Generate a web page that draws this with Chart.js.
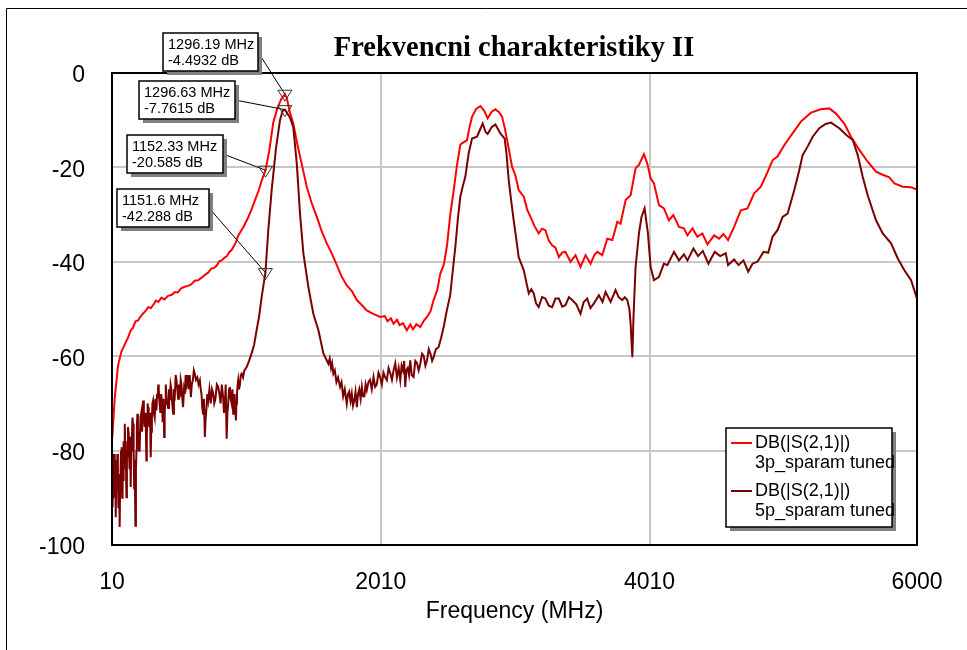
<!DOCTYPE html>
<html>
<head>
<meta charset="utf-8">
<script src="https://cdn.jsdelivr.net/npm/chart.js@4.4.0/dist/chart.umd.min.js"></script>
<style>
  html, body { margin: 0; padding: 0; background: #fff; }
</style>
</head>
<body>
<canvas id="chart" width="967" height="650"></canvas>
<script>
// 3p_sparam tuned
const freq3p = [10, 30, 55, 80, 105, 130, 148, 165, 185, 205, 222, 240, 260, 280, 300, 320, 337, 355, 378, 400, 428, 455, 478, 500, 525, 550, 575, 600, 625, 650, 675, 700, 725, 750,
  770, 790, 808, 825, 845, 865, 883, 900, 930, 950, 990, 1025, 1050, 1075, 1100, 1125, 1152.33, 1180, 1210, 1240, 1270, 1296.19, 1310, 1335,
  1359, 1385, 1410, 1435, 1459, 1495, 1534, 1570, 1608, 1645, 1683, 1720, 1757, 1795, 1832, 1870, 1906, 1950, 2005, 2040,
  2060, 2085, 2105, 2130, 2150, 2175, 2204, 2230, 2250, 2275, 2304, 2330, 2354, 2380, 2403, 2430, 2453, 2480, 2503, 2527,
  2552, 2577, 2602, 2614, 2652, 2670, 2689, 2720, 2751, 2780, 2805, 2835, 2863, 2890, 2913, 2935, 2950, 2987, 3010, 3036,
  3074, 3100, 3124, 3155, 3185, 3210, 3235, 3260, 3285, 3310, 3335, 3360, 3384, 3422, 3459, 3496, 3534, 3571, 3600, 3621,
  3658, 3695, 3733, 3770, 3794, 3832, 3869, 3906, 3931, 3968, 3993, 4018, 4043, 4080, 4117, 4154, 4187, 4229, 4266, 4292,
  4329, 4366, 4403, 4441, 4490, 4527, 4560, 4594, 4639, 4689, 4739, 4788, 4838, 4883, 4925, 4962, 5012, 5074, 5136, 5211,
  5285, 5347, 5397, 5459, 5509, 5571, 5633, 5695, 5740, 5794, 5832, 5894, 5956, 6000];
const db3p = [-78, -69, -62, -59, -57.5, -56, -54.6, -54, -52.6, -52.4, -51.6, -51, -50.4, -49.6, -49.8, -49, -48.2, -48.5, -47.6, -48, -47.2, -47, -46.4, -46.5, -45.6, -45.3, -45.1, -44.8, -44.0, -43.9, -43.4, -42.8, -42.3, -41.4,
  -41.3, -40.8, -39.9, -39.7, -39.2, -38.8, -37.9, -37.5, -36, -34.4, -32.5, -30.5, -28.8, -26.9, -25, -22.7, -20.585, -16.5, -10.5, -7.5, -5.5, -4.4932, -5.2, -8.5,
  -10.7, -14.5, -17.8, -21, -24.1, -27.5, -30.5, -33.5, -36.1, -38.2, -40.7, -43.2, -45, -46.2, -48.1, -49.2, -50.3, -51, -51.7, -51.5,
  -52.6, -52, -53.1, -52.3, -53.4, -53, -54.5, -53.3, -54.3, -53.2, -53.8, -52.5, -51.7, -50.5, -48.1, -46, -42.5, -40.5, -36.5, -30,
  -25, -19.5, -15.2, -14.9, -14.2, -11.5, -9.3, -7.6, -7.0, -8, -9.6, -8.2, -7.7, -8.3, -9.3, -12, -14.2, -19.9, -21.5, -24.8,
  -26.2, -29, -30.5, -32.5, -34, -33, -33.3, -35.5, -36.5, -37, -39, -38, -37.9, -40, -38.6, -41.1, -38.6, -40.4, -38.5, -37.9,
  -38.6, -35.1, -35.4, -31.5, -31.9, -26.9, -25.9, -20.2, -19.5, -17.2, -19.2, -22.3, -23.4, -28, -28.7, -31.2, -30.1, -32.6, -32.9, -34.4,
  -32.9, -34.7, -34, -36.3, -34.4, -35.1, -34.1, -35.4, -32.6, -29.1, -28.7, -25.5, -24.1, -21.3, -18.5, -17.7, -15.3, -12.8, -10.3, -8.4,
  -7.7, -7.5, -8.6, -10.7, -13.5, -16.3, -18.8, -20.9, -21.5, -22.1, -23.4, -24.1, -24.2, -24.7];

// 5p_sparam tuned
const freq5p = [10, 14, 18, 22, 25, 29, 32, 35, 38, 41, 44, 47, 50, 54, 58, 62, 67, 70, 74, 77,
  80, 83, 86, 89, 92, 95, 98, 101, 105, 108, 111, 114, 117, 121, 125, 129, 134, 137, 141, 145,
  149, 153, 158, 162, 167, 171, 175, 179, 184, 188, 192, 195, 199, 203, 207, 211, 216, 222, 228, 234,
  241, 247, 254, 260, 266, 269, 272, 275, 278, 283, 288, 293, 298, 302, 307, 311, 316, 322, 328, 334,
  341, 345, 350, 354, 358, 364, 370, 376, 383, 387, 390, 394, 398, 402, 406, 410, 415, 421, 428, 434,
  440, 446, 452, 458, 465, 471, 478, 484, 490, 496, 502, 508, 515, 521, 527, 533, 539, 546, 552, 558,
  565, 572, 580, 588, 597, 604, 612, 619, 626, 635, 645, 654, 664, 670, 676, 682, 688, 694, 701, 707,
  713, 719, 726, 735, 745, 754, 763, 771, 780, 790, 800, 809, 818, 827, 837, 843, 850, 856, 863, 869,
  875, 881, 887, 893, 900, 906, 912, 917, 922, 927, 932, 936, 940, 945, 949, 955, 962, 968, 975, 985,
  995, 1012, 1030, 1049, 1068, 1086, 1105, 1124, 1151.6, 1173, 1198, 1230, 1260, 1280, 1296.63, 1315, 1335, 1359, 1385, 1409,
  1434, 1471, 1508, 1546, 1583, 1620, 1630, 1640, 1648, 1657, 1668, 1680, 1692, 1707, 1718, 1730, 1742, 1757, 1766, 1775,
  1785, 1794, 1803, 1812, 1822, 1832, 1841, 1850, 1860, 1869, 1878, 1888, 1897, 1906, 1918, 1930, 1943, 1956, 1968, 1980,
  1993, 2005, 2018, 2030, 2043, 2055, 2068, 2080, 2093, 2105, 2118, 2130, 2143, 2155, 2165, 2175, 2184, 2192, 2200, 2210,
  2220, 2229, 2240, 2254, 2267, 2280, 2292, 2304, 2317, 2330, 2342, 2354, 2367, 2380, 2392, 2403, 2420, 2440, 2460, 2478,
  2500, 2527, 2545, 2565, 2585, 2602, 2620, 2639, 2664, 2689, 2726, 2768, 2790, 2805, 2835, 2863, 2900, 2932, 2945, 2962,
  2980, 2999, 3020, 3036, 3074, 3111, 3130, 3148, 3165, 3185, 3210, 3235, 3260, 3285, 3310, 3335, 3360, 3384, 3410, 3434,
  3465, 3496, 3520, 3546, 3570, 3596, 3633, 3660, 3683, 3720, 3757, 3780, 3807, 3825, 3844, 3860, 3869, 3876, 3882, 3890,
  3906, 3931, 3950, 3973, 3998, 4018, 4043, 4080, 4117, 4142, 4192, 4229, 4266, 4292, 4336, 4371, 4406, 4448, 4495, 4535,
  4577, 4594, 4639, 4672, 4709, 4744, 4776, 4813, 4858, 4893, 4925, 4962, 5000, 5037, 5087, 5124, 5149, 5186, 5224, 5273,
  5320, 5360, 5422, 5472, 5522, 5559, 5596, 5633, 5695, 5745, 5807, 5857, 5906, 5956, 6000];
const db5p = [-84.2, -92, -88, -83, -80.7, -86, -90, -84, -94.1, -86, -82, -88, -80.7, -86, -92, -85, -96.2, -88, -84, -80,
  -79.3, -84, -90, -82, -86.3, -80, -78, -82, -74.3, -79, -84, -78, -89.9, -82, -80, -75, -76.4, -81, -84, -77,
  -87.7, -80, -78, -73, -74.3, -80, -88, -82, -95.9, -84, -80, -75, -72.2, -77, -76, -80, -79.3, -73, -72, -76,
  -69.4, -73, -75, -72, -82.1, -77, -74, -70, -70.8, -73, -75, -72, -81.4, -76, -73, -70, -69.4, -72, -73, -69,
  -71.5, -68, -69, -66, -67.2, -70, -72, -68, -70.1, -74, -73, -69, -77.1, -72, -70, -66, -67.9, -70, -71, -67,
  -69.4, -66, -67, -70, -72.2, -67, -68, -64, -65.1, -67, -69, -66, -68.7, -65, -66, -69, -70.8, -67, -68, -64,
  -65.8, -64, -67, -64, -68.7, -66, -65, -63, -63.7, -65, -64.5, -66, -65.1, -67, -68, -71, -72.2, -69, -77.1, -73,
  -71, -68, -69.4, -67, -70, -67, -67.9, -70, -69, -66, -66.5, -68, -70, -66, -68.7, -72, -70, -66, -77.5, -72,
  -70, -67, -66.5, -69, -70, -67, -72.2, -70, -68, -71, -73.6, -70, -68, -66, -65.1, -67, -66, -64, -63.7, -64.5,
  -63, -62.3, -61, -59.4, -57.5, -54.5, -51.5, -47.4, -42.288, -33.3, -24.8, -16, -10, -8, -7.7615, -8.6, -9.5, -11.5, -19.2, -29.8,
  -38.2, -45.3, -51, -54.5, -59.4, -61.6, -60.5, -62.5, -61.5, -63.7, -63, -65.5, -64.5, -66.5, -65.5, -68.5, -67, -70.1, -68, -67.5,
  -69.5, -67.9, -70.5, -69.5, -67.5, -70.8, -68, -67, -69, -66.5, -68.5, -68.5, -66, -67.2, -65.5, -65, -67, -64.4, -66.5, -66,
  -63.5, -64.4, -66, -63.5, -64.5, -65.1, -62.5, -63.5, -65, -63, -61.5, -64.5, -62.5, -65.1, -62, -63, -61, -66.5, -63, -62.5,
  -64, -60.9, -64, -64.4, -61, -61.5, -63, -61.6, -59.5, -60, -62, -60.9, -58.5, -59.5, -61, -60.2, -58.5, -58.1, -56, -53.8,
  -50.5, -47, -42, -36.8, -30.5, -26.2, -24, -22, -17, -13.9, -13.5, -10.7, -12.5, -12.9, -11.5, -10.9, -12.8, -13.9, -17, -22.7,
  -27, -31.2, -35.5, -39, -41.8, -46.7, -45.8, -46.7, -48.8, -49.6, -47.5, -47.8, -49.3, -49.6, -47.8, -47.8, -49.5, -49.2, -47.5, -48.1,
  -49, -51, -48.5, -47.8, -49.8, -48.8, -47.1, -48.5, -46.4, -48.5, -46, -47.5, -48.1, -47.5, -48.1, -50, -53.1, -57, -60.2, -52,
  -41.1, -34, -30.5, -28.7, -34, -41.1, -43.9, -43.2, -40.4, -40.7, -37.9, -39.7, -38.4, -39.7, -37.2, -38.8, -37.7, -40.4, -37.9, -38.8,
  -38.2, -40.7, -39.5, -40.7, -39.7, -42.1, -40.4, -40, -37.9, -38.1, -34.7, -33.3, -30.5, -29.8, -24.8, -20.6, -17.4, -15.6, -13.5, -11.7,
  -10.8, -10.5, -11.7, -13.1, -14.2, -17.4, -22, -25.9, -31.2, -34, -36.1, -39.3, -41.8, -43.9, -47.8];

const xTicks = [10, 2010, 4010, 6000];
const yTicks = [0, -20, -40, -60, -80, -100];
const seriesNames = ["DB(|S(2,1)|)", "DB(|S(2,1)|)"];
const seriesNotes = ["3p_sparam tuned", "5p_sparam tuned"];

// markers: frequency and level
const markerFreq = [1296.19, 1296.63, 1152.33, 1151.6];
const markerDb = [-4.4932, -7.7615, -20.585, -42.288];

const red = "#ff0000";
const maroon = "#7a0000";

function toPoints(xs, ys) {
  return xs.map((f, i) => ({ x: f, y: ys[i] }));
}

// where each marker's label box sits (pixels)
const markerBoxes = [
  { l: 163, t: 33, w: 95, h: 38 },
  { l: 139, t: 81, w: 96, h: 38 },
  { l: 127, t: 135, w: 96, h: 38 },
  { l: 117, t: 189, w: 92, h: 38 },
];

function shadowBox(ctx, l, t, w, h) {
  ctx.fillStyle = "#808080";
  ctx.fillRect(l + 4, t + 4, w, h);
  ctx.fillStyle = "#fff";
  ctx.fillRect(l, t, w, h);
  ctx.strokeStyle = "#000";
  ctx.lineWidth = 1.5;
  ctx.strokeRect(l, t, w, h);
}

const overlay = {
  id: "overlay",
  afterDraw(chart) {
    const ctx = chart.ctx;
    const xs = chart.scales.x, ys = chart.scales.y;
    const a = chart.chartArea;
    ctx.save();

    // outer frame
    ctx.strokeStyle = "#000";
    ctx.lineWidth = 1;
    ctx.beginPath();
    ctx.moveTo(6.5, 650);
    ctx.lineTo(6.5, 8.5);
    ctx.lineTo(967, 8.5);
    ctx.stroke();

    // plot frame
    ctx.lineWidth = 2;
    ctx.strokeRect(a.left, a.top, a.right - a.left, a.bottom - a.top);

    // titles
    ctx.fillStyle = "#000";
    ctx.textAlign = "center";
    ctx.textBaseline = "middle";
    ctx.font = "bold 28.5px 'Liberation Serif'";
    ctx.fillText("Frekvencni charakteristiky II", 514, 49);
    ctx.font = "23px 'Liberation Sans'";
    ctx.fillText("Frequency (MHz)", (a.left + a.right) / 2, 612);

    // markers
    markerFreq.forEach((f, i) => {
      const px = xs.getPixelForValue(f);
      const py = ys.getPixelForValue(markerDb[i]);
      const b = markerBoxes[i];
      ctx.strokeStyle = "#000";
      ctx.lineWidth = 1;
      ctx.beginPath();
      ctx.moveTo(b.l + b.w, b.t + b.h / 2);
      ctx.lineTo(px, py);
      ctx.stroke();
      ctx.strokeStyle = "#333";
      ctx.beginPath();
      ctx.moveTo(px - 7, py - 4);
      ctx.lineTo(px + 7, py - 4);
      ctx.lineTo(px, py + 7);
      ctx.closePath();
      ctx.stroke();
      shadowBox(ctx, b.l, b.t, b.w, b.h);
      ctx.fillStyle = "#000";
      ctx.textAlign = "left";
      ctx.font = "14.5px 'Liberation Sans'";
      ctx.fillText(f + " MHz", b.l + 5, b.t + 11.5);
      ctx.fillText(markerDb[i] + " dB", b.l + 5, b.t + 27.5);
    });

    // legend
    shadowBox(ctx, 726, 428, 166, 99);
    [red, maroon].forEach((c, i) => {
      const yy = 443 + i * 48;
      ctx.strokeStyle = c;
      ctx.lineWidth = 2;
      ctx.beginPath();
      ctx.moveTo(731, yy);
      ctx.lineTo(752, yy);
      ctx.stroke();
      ctx.fillStyle = "#000";
      ctx.textAlign = "left";
      ctx.font = "18px 'Liberation Sans'";
      ctx.fillText(seriesNames[i], 755, yy);
      ctx.fillText(seriesNotes[i], 755, yy + 20);
    });

    ctx.restore();
  }
};

new Chart(document.getElementById("chart"), {
  type: "line",
  data: {
    datasets: [
      { label: seriesNotes[0], data: toPoints(freq3p, db3p), borderColor: red, borderWidth: 2, pointRadius: 0, order: 2 },
      { label: seriesNotes[1], data: toPoints(freq5p, db5p), borderColor: maroon, borderWidth: 2, pointRadius: 0, order: 1 },
    ],
  },
  options: {
    responsive: false,
    animation: false,
    layout: { padding: { left: 0, top: 73, right: 50, bottom: 0 } },
    plugins: { legend: { display: false }, tooltip: { enabled: false } },
    scales: {
      x: {
        type: "linear",
        min: 10,
        max: 6000,
        afterBuildTicks: (s) => { s.ticks = xTicks.map((v) => ({ value: v })); },
        afterFit: (s) => { s.height = 105; },
        grid: { color: "#c8c8c8", lineWidth: 2, drawTicks: false },
        border: { color: "#000", width: 2 },
        ticks: { padding: 24, color: "#000", font: { family: "Liberation Sans", size: 23 }, callback: (v) => String(v), maxRotation: 0 },
      },
      y: {
        min: -100,
        max: 0,
        afterBuildTicks: (s) => { s.ticks = yTicks.map((v) => ({ value: v })); },
        afterFit: (s) => { s.width = 112; },
        grid: { color: "#c8c8c8", lineWidth: 2, drawTicks: false },
        border: { color: "#000", width: 2 },
        ticks: { padding: 27, labelOffset: 3, color: "#000", font: { family: "Liberation Sans", size: 23 }, callback: (v) => String(v) },
      },
    },
  },
  plugins: [overlay],
});
</script>
</body>
</html>
